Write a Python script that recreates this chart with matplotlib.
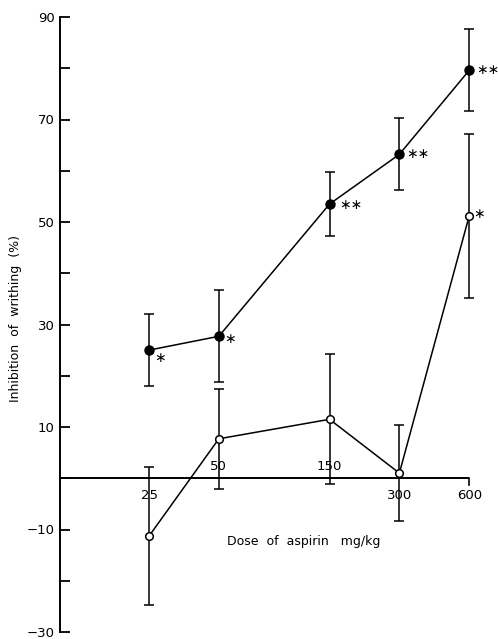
import numpy as np
import matplotlib
matplotlib.use("Agg")
import matplotlib.pyplot as plt

# Data
doses = [25, 50, 150, 300, 600]
dose_labels = ["25", "50", "150", "300", "600"]
label_side = ["below", "above", "above", "below", "below"]

filled_mean = [25.0, 27.7, 53.5, 63.2, 79.6]
filled_err = [7.0, 9.0, 6.2, 7.0, 8.0]
filled_sig = ["*", "*", "**", "**", "**"]

open_mean = [-11.3, 7.7, 11.5, 1.0, 51.2]
open_err = [13.5, 9.8, 12.7, 9.3, 16.0]
open_sig = ["", "", "", "", "*"]

yticks_major = [-30, -10, 10, 30, 50, 70, 90]
yticks_minor = [-20, 0, 20, 40, 60, 80]

W, H = 498, 639
fig = plt.figure(figsize=(W / 100, H / 100), dpi=100)
left_px, right_px, top_px, bot_px = 60, 490, 17, 632
ax = fig.add_axes([left_px / W, (H - bot_px) / H, (right_px - left_px) / W, (bot_px - top_px) / H])

ax.set_xscale("log")
px_per_dec = 232.0
xl = 10 ** (np.log10(25) - (149 - left_px) / px_per_dec)
xr = 10 ** (np.log10(25) + (right_px - 149) / px_per_dec)
ax.set_xlim(xl, xr)
ax.set_ylim(-30, 90)

for s in ["top", "right", "bottom"]:
    ax.spines[s].set_visible(False)
ax.spines["left"].set_linewidth(1.4)
ax.set_xticks([])
ax.set_xticks([], minor=True)

fs = 9.5
ax.set_yticks(yticks_major)
ax.set_yticklabels([str(v).replace("-", "\u2212") for v in yticks_major], fontsize=fs)
ax.set_yticks(yticks_minor, minor=True)
ax.tick_params(axis="y", which="both", direction="in", length=7, width=1.3, pad=4, labelsize=fs)

# zero line (x axis) from left edge to 600, with end tick
ax.plot([xl, doses[-1]], [0, 0], color="black", lw=1.4, solid_capstyle="butt", clip_on=False)
ax.plot([doses[-1], doses[-1]], [0, -1.3], color="black", lw=1.2)

kw = dict(color="black", lw=1.1, capsize=3.5, capthick=1.1, elinewidth=1.1)
ax.errorbar(doses, filled_mean, yerr=filled_err, fmt="-o", markersize=6.5,
            markerfacecolor="black", markeredgecolor="black", **kw)
ax.errorbar(doses, open_mean, yerr=open_err, fmt="-o", markersize=5.5,
            markerfacecolor="white", markeredgecolor="black", markeredgewidth=1.1, **kw)

# significance marks
star = "\u2217"
offs = [(4, -6), (4, -2), (7, -1), (5, 0), (5, 0)]
for d, m, s, o in zip(doses, filled_mean, filled_sig, offs):
    if s:
        ax.annotate(star * len(s), (d, m), xytext=o, textcoords="offset points",
                    ha="left", va="center", fontsize=10)
for d, m, s in zip(doses, open_mean, open_sig):
    if s:
        ax.annotate(star * len(s), (d, m), xytext=(3, 1), textcoords="offset points",
                    ha="left", va="center", fontsize=10)

# dose tick labels
for d, lab, side in zip(doses, dose_labels, label_side):
    if side == "above":
        ax.annotate(lab, (d, 0), xytext=(0, 4), textcoords="offset points",
                    ha="center", va="bottom", fontsize=fs)
    else:
        ax.annotate(lab, (d, 0), xytext=(0, -8), textcoords="offset points",
                    ha="center", va="top", fontsize=fs)

ax.text(10 ** (np.log10(25) + (304 - 149) / px_per_dec), -12.3,
        "Dose  of  aspirin   mg/kg", ha="center", va="center", fontsize=9)
fig.text(16 / W, 1 - 318 / H, "Inhibition  of  writhing  (%)", rotation=90,
         ha="center", va="center", fontsize=9)

fig.savefig("out.png", dpi=100)
